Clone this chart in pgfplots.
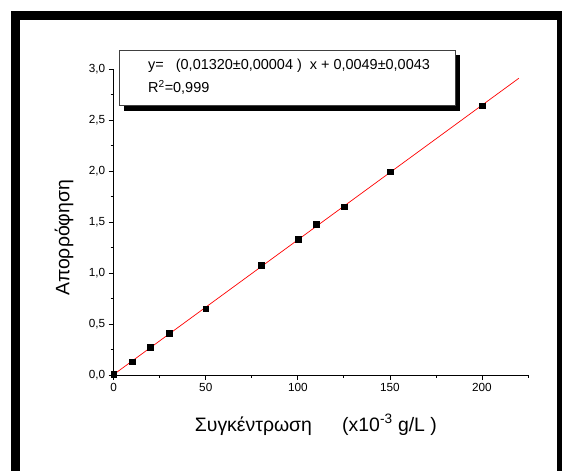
\documentclass[border=0pt]{standalone}
\usepackage{fontspec}
\setmainfont{Liberation Sans}
\usepackage{pgfplots}
\pgfplotsset{compat=1.18}
\begin{document}
\begin{tikzpicture}[x=1bp,y=1bp]
\useasboundingbox (0,0) rectangle (562,471);
\fill[white] (0,0) rectangle (562,471);
% page frame
\fill[black] (11,0) rectangle (20,460);
\fill[black] (11,451) rectangle (562,460);
\fill[black] (557,0) rectangle (562,460);
\begin{axis}[
  at={(113.7bp,96bp)}, anchor=south west,
  scale only axis, width=414.3bp, height=306bp,
  xmin=0, xmax=225, ymin=0, ymax=3,
  axis x line*=bottom, axis y line*=left,
  axis line style={line width=0.9bp},
  xtick={0,50,...,200}, minor xtick={25,75,...,225},
  ytick={0,0.5,...,3}, minor ytick={0.25,0.75,...,2.75},
  tick align=outside, major tick length=5bp, minor tick length=3bp,
  tick style={black, line width=0.8bp},
  /pgf/number format/assume math mode=true,
  ticklabel style={font=\fontsize{11.8}{14}\selectfont},
  yticklabel style={/pgf/number format/.cd, fixed, fixed zerofill, precision=1, use comma},
  xlabel={Συγκέντρωση\quad\ \ (x10\textsuperscript{-3} g/L )},
  ylabel={Απορρόφηση},
  label style={font=\fontsize{19.5}{22}\selectfont},
  xlabel style={at={(axis description cs:0.488,-0.163)}, anchor=center},
  ylabel style={at={(axis description cs:-0.12,0.448)}, anchor=center},
]
% linear fit
\addplot[red, line width=0.7bp] coordinates {(0,0.0049) (220,2.9089)};
% measured absorbance
\addplot[only marks, mark=square*, mark size=2.9bp, black] table {
x y
0 0.01
10 0.13
20 0.275
30 0.41
50 0.65
80 1.075
100 1.333
110 1.477
125 1.65
150 1.993
200 2.64
};
\end{axis}
% fit result box with shadow
\fill[black] (124,360) rectangle (460,416);
\draw[fill=white, draw=black!75, line width=0.8bp] (119,366) rectangle (455,421);
\node[anchor=base west, inner sep=0, font=\fontsize{14.5}{16}\selectfont] at (148,401)
  {y=\ \ \ (0,01320±0,00004 )\ \ x + 0,0049±0,0043};
\node[anchor=base west, inner sep=0, font=\fontsize{14.5}{16}\selectfont] at (148,378)
  {R\textsuperscript{2}=0,999};
\end{tikzpicture}
\end{document}
